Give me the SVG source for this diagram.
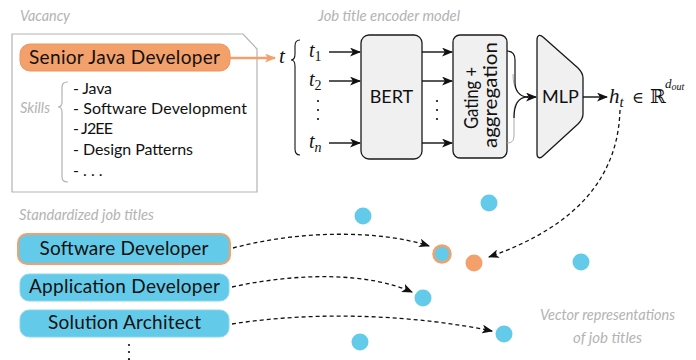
<svg xmlns="http://www.w3.org/2000/svg" width="696" height="360" viewBox="0 0 696 360">
<style>
.lbl{font-family:Lato,"Open Sans",sans-serif;font-style:italic;fill:#b3b3b3;font-size:16px}
.txt{font-family:Lato,"Open Sans",sans-serif;fill:#111}
.math{font-family:"Liberation Serif","DejaVu Serif",serif;font-style:italic;fill:#111}
.rm{font-family:"Liberation Serif","DejaVu Serif",serif;fill:#111}
.box{fill:#f0f0f0;stroke:#1a1a1a;stroke-width:1.3}
.pill{fill:#63cbe9;stroke:#8bd6ec;stroke-width:1}
.dot{fill:#63cbe9}
.arr{fill:none;stroke:#111;stroke-width:1.4}
.dash{fill:none;stroke:#111;stroke-width:1.3;stroke-dasharray:4 3}
</style>
<defs>
<marker id="ah" viewBox="0 0 10 8" refX="9" refY="4" markerWidth="11" markerHeight="9" orient="auto" markerUnits="userSpaceOnUse"><path d="M0,0 L10,4 L0,8 L2.5,4z" fill="#111"/></marker>
<marker id="ao" viewBox="0 0 10 8" refX="9" refY="4" markerWidth="11" markerHeight="9" orient="auto" markerUnits="userSpaceOnUse"><path d="M0,0 L10,4 L0,8 L2.5,4z" fill="#f4a06b"/></marker>
</defs>

<!-- labels -->
<text class="lbl" x="20" y="21" textLength="50" lengthAdjust="spacingAndGlyphs">Vacancy</text>
<text class="lbl" x="318" y="21" textLength="142" lengthAdjust="spacingAndGlyphs">Job title encoder model</text>
<text class="lbl" x="19" y="220" textLength="135" lengthAdjust="spacingAndGlyphs">Standardized job titles</text>
<text class="lbl" x="540" y="320" textLength="135" lengthAdjust="spacingAndGlyphs">Vector representations</text>
<text class="lbl" x="573" y="343" textLength="69" lengthAdjust="spacingAndGlyphs">of job titles</text>

<!-- vacancy document -->
<g id="vacancy">
<path d="M12,34 L243,34 L257,49 L257,192 L12,192 Z" fill="#fff" stroke="#b3b3b3" stroke-width="1.2"/>
<text class="lbl" x="20" y="113" textLength="30" lengthAdjust="spacingAndGlyphs">Skills</text>
<path d="M68,82 C63,82 62,84 62,88 L62,102 C62,105 61,107 58,107 C61,107 62,109 62,112 L62,176 C62,180 63,182 68,182" fill="none" stroke="#b3b3b3" stroke-width="1.2"/>
<g class="txt" font-size="16">
<text x="73" y="94" textLength="39">- Java</text>
<text x="73" y="114" textLength="174">- Software Development</text>
<text x="73" y="134" textLength="40">- J2EE</text>
<text x="73" y="155" textLength="120">- Design Patterns</text>
<text x="73" y="176">- . . .</text>
</g>
</g>
<g id="senior">
<rect x="20" y="44" width="210" height="27" rx="10" fill="#f4a06b" stroke="#eb9460" stroke-width="1"/>
<text class="txt" x="124.5" y="64" font-size="19" text-anchor="middle" textLength="191">Senior Java Developer</text>
</g>

<!-- tokens -->
<g id="tokens">
<text class="math" x="279" y="63" font-size="21">t</text>
<path d="M300,40 C296,40 295,42 295,46 L295,54 C295,58 294,60 291,60 C294,60 295,62 295,66 L295,149 C295,153 296,155 300,155" fill="none" stroke="#111" stroke-width="1.1"/>
<text class="math" x="309" y="57" font-size="20">t<tspan class="rm" font-style="normal" font-size="14" dy="4">1</tspan></text>
<text class="math" x="309" y="86" font-size="20">t<tspan class="rm" font-style="normal" font-size="14" dy="4">2</tspan></text>
<text class="math" x="309" y="148" font-size="20">t<tspan font-size="14" dy="4">n</tspan></text>
<g fill="#111"><circle cx="318" cy="101" r="1.1"/><circle cx="318" cy="110" r="1.1"/><circle cx="318" cy="119" r="1.1"/>
<circle cx="437" cy="101" r="1.1"/><circle cx="437" cy="110" r="1.1"/><circle cx="437" cy="119" r="1.1"/></g>
</g>

<g id="bert">
<rect class="box" x="361" y="35" width="61" height="124" rx="8"/>
<text class="txt" x="391.5" y="103" font-size="18" text-anchor="middle">BERT</text>
</g>
<g id="gating">
<rect class="box" x="453" y="35" width="54" height="123" rx="7"/>
<g class="txt" font-size="19" text-anchor="middle">
<text transform="translate(478,98) rotate(-90)" textLength="62" lengthAdjust="spacingAndGlyphs">Gating +</text>
<text transform="translate(497,95) rotate(-90)" textLength="106" lengthAdjust="spacingAndGlyphs">aggregation</text>
</g>
</g>
<g id="mlp">
<path class="box" d="M537,40 C537,35 540,34 543,37 L578,68 C581,71 583,74 583,78 L583,114 C583,118 581,121 578,124 L543,156 C540,159 537,158 537,154 Z"/>
<text class="txt" x="560.5" y="103" font-size="18" text-anchor="middle">MLP</text>
</g>
<g id="output">
<text class="math" x="609" y="103" font-size="21">h<tspan font-size="15" dy="4">t</tspan></text>
<text x="632" y="103" font-family="'DejaVu Serif',serif" font-size="16" fill="#111">∈</text>
<text x="650" y="103" font-family="'DejaVu Serif',serif" font-size="19" fill="#111">ℝ</text>
<text class="math" x="665" y="88" font-size="13">d<tspan font-size="10" dy="2">out</tspan></text>
</g>

<!-- job titles -->
<g id="jt-software">
<rect x="18" y="234" width="212" height="30" rx="9" fill="#63cbe9" stroke="#f4a06b" stroke-width="2"/>
<text class="txt" x="124" y="255" font-size="19" text-anchor="middle" textLength="169">Software Developer</text>
</g>
<g id="jt-application">
<rect class="pill" x="20" y="274" width="209" height="27" rx="9"/>
<text class="txt" x="124.5" y="293" font-size="19" text-anchor="middle" textLength="191">Application Developer</text>
</g>
<g id="jt-solution">
<rect class="pill" x="20" y="310" width="209" height="27" rx="9"/>
<text class="txt" x="124.5" y="329" font-size="19" text-anchor="middle" textLength="153">Solution Architect</text>
</g>
<g fill="#111"><circle cx="129" cy="345" r="1.1"/><circle cx="129" cy="352" r="1.1"/><circle cx="129" cy="359" r="1.1"/></g>

<!-- vector points -->
<g id="points">
<circle class="dot" cx="363" cy="216" r="8.5"/>
<circle class="dot" cx="489" cy="203" r="8.5"/>
<circle class="dot" cx="442" cy="254" r="8.5" stroke="#f4a06b" stroke-width="2.5"/>
<circle cx="474" cy="263" r="8.5" fill="#f4a06b"/>
<circle class="dot" cx="581" cy="262" r="8.5"/>
<circle class="dot" cx="423" cy="298" r="8.5"/>
<circle class="dot" cx="504" cy="334" r="8.5"/>
<circle class="dot" cx="360" cy="342" r="8.5"/>
</g>

<!-- connectors -->
<g id="connectors">
<line x1="230" y1="58" x2="275" y2="58" stroke="#f4a06b" stroke-width="2.6" marker-end="url(#ao)"/>
<line class="arr" x1="329" y1="52" x2="360" y2="52" marker-end="url(#ah)"/>
<line class="arr" x1="329" y1="81" x2="360" y2="81" marker-end="url(#ah)"/>
<line class="arr" x1="329" y1="143" x2="360" y2="143" marker-end="url(#ah)"/>
<line class="arr" x1="422" y1="52" x2="452" y2="52" marker-end="url(#ah)"/>
<line class="arr" x1="422" y1="81" x2="452" y2="81" marker-end="url(#ah)"/>
<line class="arr" x1="422" y1="143" x2="452" y2="143" marker-end="url(#ah)"/>
<path d="M513,74 C513,88 518,97 528,97" fill="none" stroke="#aaa" stroke-width="1"/>
<path d="M507,143 C513,143 514,140 514,134 L514,112 C514,104 518,97 528,97" fill="none" stroke="#aaa" stroke-width="1"/>
<path d="M507,51 C513,51 515,54 515,60 L515,82 C515,90 519,97 528,97" fill="none" stroke="#111" stroke-width="1.2"/>
<path d="M514,118 C514,104 519,97 528,97" fill="none" stroke="#111" stroke-width="1.2"/>
<line class="arr" x1="527" y1="97" x2="536" y2="97" marker-end="url(#ah)"/>
<line class="arr" x1="583" y1="97" x2="607" y2="97" marker-end="url(#ah)"/>
<path class="dash" d="M620,110 C618,175 580,225 489,257" marker-end="url(#ah)"/>
<path class="dash" d="M233,248 C300,230 380,230 429,246" marker-end="url(#ah)"/>
<path class="dash" d="M232,287 C300,272 370,273 412,292" marker-end="url(#ah)"/>
<path class="dash" d="M232,324 C320,310 420,316 492,331" marker-end="url(#ah)"/>
</g>
</svg>
